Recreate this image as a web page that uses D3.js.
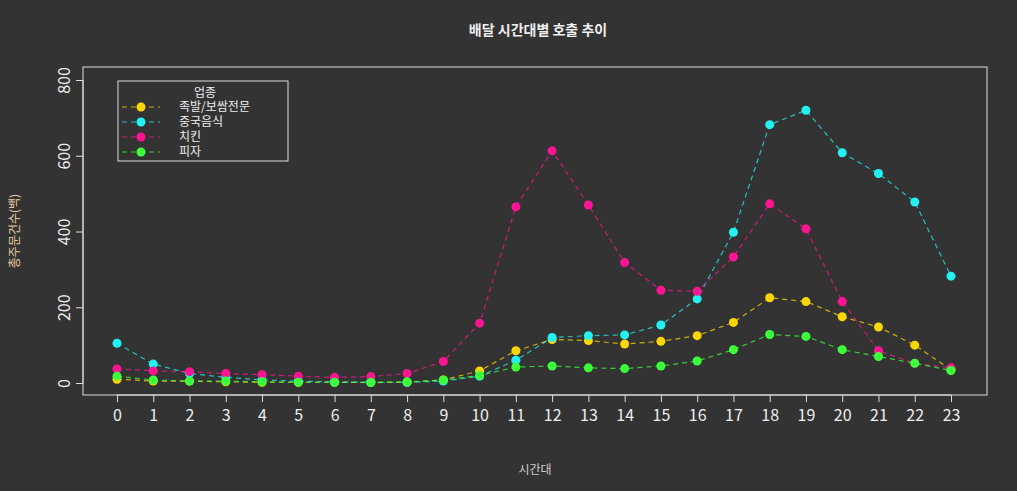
<!DOCTYPE html><html><head><meta charset="utf-8"><script src="https://cdn.jsdelivr.net/npm/d3@7"></script>
<style>body{margin:0;background:#333}text{font-family:"Noto Sans CJK KR",sans-serif}</style></head><body><svg width="1017" height="491"></svg>
<script>
const hours=d3.range(24);
const seriesNames=["족발/보쌈전문","중국음식","치킨","피자"];
const colors=["#FFD700","#22F2F2","#FF1493","#3CFF3C"];
const jokbal=[10,5,5,3,2,2,2,1,2,8,32,85,115,112,103,110,125,160,225,215,175,148,100,35];
const chinese=[105,50,25,15,8,5,3,2,2,5,18,60,120,125,127,153,222,398,682,720,608,553,478,282];
const chicken=[37,32,30,25,22,18,15,17,25,57,158,465,613,470,318,245,242,333,473,407,215,85,52,40];
const pizza=[18,8,5,5,3,2,2,2,3,8,20,42,45,40,38,45,58,88,128,123,88,70,52,33];
const yTicks=[0,200,400,600,800];
const data=[jokbal,chinese,chicken,pizza];
const svg=d3.select("svg");
const x=d3.scaleLinear().domain([0,23]).range([117,951]);
const y=d3.scaleLinear().domain([0,800]).range([383,80]);
svg.append("rect").attr("x",83).attr("y",67).attr("width",904).attr("height",328).attr("fill","none").attr("stroke","#ddd");
const xa=svg.append("g").attr("transform","translate(0,395)").call(d3.axisBottom(x).tickValues(hours).tickSize(7).tickPadding(8).tickSizeOuter(0));
const ya=svg.append("g").attr("transform","translate(83,0)").call(d3.axisLeft(y).tickValues(yTicks).tickSize(7).tickSizeOuter(0));
[xa,ya].forEach(a=>{a.select(".domain").remove();a.selectAll("line").attr("stroke","#ddd");a.selectAll("text").attr("fill","#eee").attr("font-size",16).attr("font-family","Liberation Sans, Arial");});
svg.append("line").attr("x1",117).attr("x2",951).attr("y1",395).attr("y2",395).attr("stroke","#ddd");
svg.append("line").attr("x1",83).attr("x2",83).attr("y1",y(0)).attr("y2",y(800)).attr("stroke","#ddd");
ya.selectAll(".tick").each(function(d){d3.select(this).select("text").attr("transform",`translate(-13,0) rotate(-90)`).attr("x",0).attr("y",0).attr("dy","0em").attr("text-anchor","middle");});
const line=d3.line().x((d,i)=>x(i)).y(d=>y(d));
data.forEach((s,k)=>{
 svg.append("path").attr("d",line(s)).attr("fill","none").attr("stroke",colors[k]).attr("stroke-opacity",0.75).attr("stroke-width",1.2).attr("stroke-dasharray","5,4");
 svg.selectAll(null).data(s).enter().append("circle").attr("cx",(d,i)=>x(i)).attr("cy",d=>y(d)).attr("r",4.5).attr("fill",colors[k]);
});
svg.append("text").attr("x",538).attr("y",35).attr("text-anchor","middle").attr("fill","#eee").attr("font-size",14).attr("font-weight","bold").text("배달 시간대별 호출 추이");
svg.append("text").attr("x",535).attr("y",474).attr("text-anchor","middle").attr("fill","#ccc").attr("font-size",12).text("시간대");
svg.append("text").attr("transform","translate(19,231) rotate(-90)").attr("text-anchor","middle").attr("fill","#e8c9a0").attr("font-size",12).text("총주문건수(백)");
const lg=svg.append("g");
lg.append("rect").attr("x",118).attr("y",81).attr("width",170).attr("height",80).attr("fill","none").attr("stroke","#ddd");
lg.append("text").attr("x",205).attr("y",97).attr("text-anchor","middle").attr("fill","#eee").attr("font-size",12).text("업종");
seriesNames.forEach((n,k)=>{const yy=107+k*15;
 lg.append("line").attr("x1",122).attr("x2",160).attr("y1",yy).attr("y2",yy).attr("stroke",colors[k]).attr("stroke-opacity",0.75).attr("stroke-dasharray","5,4");
 lg.append("circle").attr("cx",141).attr("cy",yy).attr("r",4.5).attr("fill",colors[k]);
 lg.append("text").attr("x",179).attr("y",yy+4).attr("fill","#eee").attr("font-size",12).text(n);});
</script></body></html>
